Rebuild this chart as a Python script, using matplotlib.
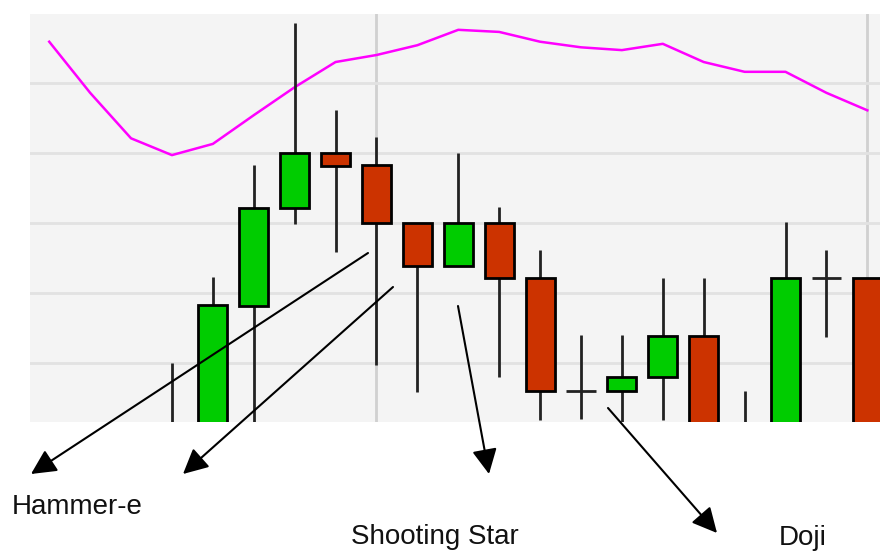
import matplotlib.pyplot as plt
import numpy as np

# candle data (index, open, high, low, close)
idx = list(range(18))
opens = [1.0, -2.0, 18.1, 32.1, 40.0, 38.3, 30.0, 23.9, 30.0, 22.1, 6.0, 6.0, 8.0, 13.9, -1.0, -1.0, 22.1, 22.1]
highs = [10.0, 22.3, 38.3, 58.6, 46.1, 42.3, 30.0, 40.0, 32.3, 26.1, 14.0, 14.0, 22.1, 22.1, 6.0, 30.1, 26.1, 22.1]
lows = [-5.0, -5.0, -2.0, 29.9, 25.9, 9.7, 5.9, 23.9, 8.0, 1.9, 2.0, -2.0, 1.9, -3.0, -5.0, -3.0, 13.7, -3.0]
closes = [-2.0, 18.3, 32.1, 40.0, 38.1, 30.0, 23.9, 30.0, 22.1, 6.0, 6.0, 8.0, 13.9, -1.0, -3.0, 22.1, 22.1, -1.0]

# moving average line
ma_idx = list(range(-3, 18))
ma_vals = [55.9, 48.6, 42.1, 39.7, 41.3, 45.4, 49.4, 53.0, 54.0, 55.4, 57.6, 57.3,
           55.9, 55.1, 54.7, 55.6, 53.0, 51.6, 51.6, 48.6, 46.1]

UP = '#00cc00'
DOWN = '#cc3300'
W = 0.71

fig = plt.figure(figsize=(8.8, 5.52), dpi=100)
ax = fig.add_axes([30 / 880, 130 / 552, 850 / 880, 408 / 552])
ax.set_facecolor('#f4f4f4')
for s in ax.spines.values():
    s.set_visible(False)

ax.set_yticks([10, 20, 30, 40, 50])
ax.set_xticks([5, 17])
ax.grid(axis='y', color='#e2e2e2', linewidth=2)
ax.grid(axis='x', color='#d0d0d0', linewidth=2)
ax.set_axisbelow(True)
ax.tick_params(left=False, bottom=False, labelleft=False, labelbottom=False)

ax.plot(ma_idx, ma_vals, color='#ff00ff', linewidth=1.8, zorder=2)

ax.vlines(idx, lows, highs, color='#222222', linewidth=2, zorder=3)
for i, o, c in zip(idx, opens, closes):
    if o == c:
        ax.hlines(o, i - W / 2, i + W / 2, color='#222222', linewidth=2, zorder=4)
    else:
        col = UP if c > o else DOWN
        ax.bar(i, abs(c - o), bottom=min(o, c), width=W, color=col,
               edgecolor='black', linewidth=2, zorder=4)

ax.set_xlim(-3.47, 17.31)
ax.set_ylim(1.57, 59.86)

# annotation arrows (figure pixels, origin bottom-left)
H = 552
arrows = [((368, 253), (31, 474)), ((393, 287), (183, 474)),
          ((458, 306), (489, 474)), ((608, 408), (717, 533))]
for (tx, ty), (hx, hy) in arrows:
    fig.add_artist(plt.matplotlib.patches.FancyArrowPatch(
        (tx, H - ty), (hx, H - hy), transform=None,
        arrowstyle='-|>,head_length=9,head_width=4.5', mutation_scale=1.7,
        color='black', linewidth=1.5, shrinkA=0, shrinkB=0))

labels = ['Hammer-e', 'Shooting Star', 'Doji']
label_pos = [(12, 514), (351, 544), (779, 545)]
for t, (x, y) in zip(labels, label_pos):
    fig.text(x / 880, 1 - y / H, t, fontsize=20, family='Liberation Sans',
             ha='left', va='baseline', color='#111111')

fig.savefig('out.png', dpi=100, facecolor='white')
